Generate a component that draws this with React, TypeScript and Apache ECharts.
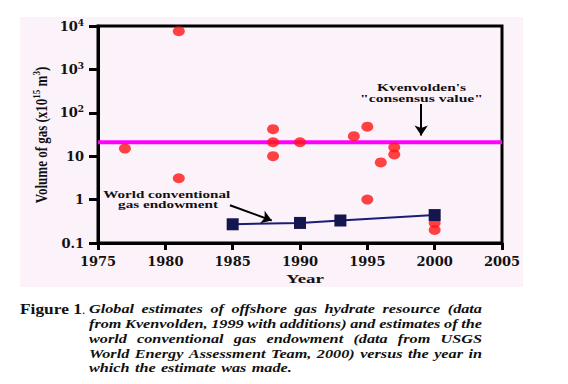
import React, { useEffect, useRef } from "react";
import * as echarts from "echarts";

// ---- data ----
const hydrateYears = [1977, 1981, 1981, 1988, 1988, 1988, 1990, 1994, 1995, 1995, 1996, 1997, 1997, 2000, 2000];
const hydrateVolumes = [15, 7600, 3.1, 42, 21, 10, 21, 29, 48, 1, 7.2, 16, 11, 0.29, 0.2];
const endowmentYears = [1985, 1990, 1993, 2000];
const endowmentVolumes = [0.27, 0.29, 0.33, 0.44];
const consensusSpan = [1975, 2005];
const consensusValue = 21;

const xMin = 1975;
const xMax = 2005;
const xStep = 5;
const yTickValues = [0.1, 1, 10, 100, 1000, 10000];
const yTickBase = ["0.1", "1", "10", "10", "10", "10"];
const yTickExp = ["", "", "", "2", "3", "4"];

const yTitleParts = ["Volume of gas (x10", "15", " m", "3", ")"];
const xTitle = "Year";
const kvenLabel = ["Kvenvolden's", "\"consensus value\""];
const worldLabel = ["World conventional", "gas endowment"];
// arrow annotations in data coordinates [year, volume]
const kvenArrow = [[1999, 160], [1999, 30]];
const worldArrow = [[1984.8, 0.74], [1987.9, 0.33]];

const captionHead = "Figure 1";
const captionLines = [
  "Global estimates of offshore gas hydrate resource (data",
  "from Kvenvolden, 1999 with additions) and estimates of the",
  "world conventional gas endowment (data from USGS",
  "World Energy Assessment Team, 2000) versus the year in",
  "which the estimate was made.",
];

const SERIF = "'Liberation Serif', 'Times New Roman', serif";
const DJ = "'DejaVu Serif', serif";
const INK = "#111111";

export default function App() {
  const ref = useRef<HTMLDivElement>(null);

  useEffect(() => {
    document.body.style.margin = "0";
    const el = ref.current;
    if (!el) return;
    const chart = echarts.init(el, null, { renderer: "svg" });

    const canvas = document.createElement("canvas");
    const ctx = canvas.getContext("2d")!;
    const measure = (t: string, size: number, weight: string, style: string) => {
      ctx.font = `${style} ${weight} ${size}px ${SERIF}`;
      return ctx.measureText(t).width;
    };

    const fitText = (
      text: string,
      cx: number,
      cy: number,
      width: number,
      size: number,
      align: string = "center",
      weight: string = "bold",
      style: string = "normal"
    ) => {
      const w = measure(text, size, weight, style);
      return {
        type: "text",
        x: cx,
        y: cy,
        scaleX: width / w,
        style: {
          text,
          fontFamily: SERIF,
          fontSize: size,
          fontWeight: weight,
          fontStyle: style,
          fill: INK,
          align,
          verticalAlign: "middle",
        },
      };
    };

    const graphics: any[] = [];
    graphics.push(fitText(kvenLabel[0], 421.5, 87.5, 89, 11));
    graphics.push(fitText(kvenLabel[1], 421.5, 98, 123, 11));
    graphics.push(fitText(worldLabel[0], 166.7, 194.5, 127, 11));
    graphics.push(fitText(worldLabel[1], 168, 204, 100, 11));
    graphics.push(fitText(xTitle, 305, 279, 38, 13));

    // y axis title (rotated, with superscripts)
    graphics.push({
      type: "text",
      x: 41,
      y: 135,
      rotation: Math.PI / 2,
      scaleY: 1.25,
      style: {
        text: `{n|${yTitleParts[0]}}{s|${yTitleParts[1]}}{n|${yTitleParts[2]}}{s|${yTitleParts[3]}}{n|${yTitleParts[4]}}`,
        align: "center",
        verticalAlign: "middle",
        rich: {
          n: { fontFamily: SERIF, fontWeight: "bold", fontSize: 13, lineHeight: 16, fill: INK },
          s: { fontFamily: SERIF, fontWeight: "bold", fontSize: 9, lineHeight: 9, verticalAlign: "top", fill: INK },
        },
      },
    });

    // caption
    const capSize = 13;
    const lineYs = [309, 323.5, 339, 353.5, 368];
    const left = 89;
    const right = 482;
    const scale = 198 / measure(captionLines[4], capSize, "bold", "italic");
    graphics.push(fitText(captionHead, 20, 309, 62, 14, "left", "bold", "normal"));
    graphics.push({
      type: "text",
      x: 82,
      y: 309,
      style: { text: ".", fontFamily: SERIF, fontSize: capSize, fill: INK, align: "left", verticalAlign: "middle" },
    });
    captionLines.forEach((line, i) => {
      const words = line.split(" ");
      const ws = words.map((w) => measure(w, capSize, "bold", "italic") * scale);
      const total = ws.reduce((a, b) => a + b, 0);
      const gap =
        i < captionLines.length - 1
          ? (right - left - total) / (words.length - 1)
          : measure(" ", capSize, "bold", "italic") * scale * 1.3;
      let x = left;
      words.forEach((w, j) => {
        graphics.push({
          type: "text",
          x,
          y: lineYs[i],
          scaleX: scale,
          style: {
            text: w,
            fontFamily: SERIF,
            fontSize: capSize,
            fontWeight: "bold",
            fontStyle: "italic",
            fill: INK,
            align: "left",
            verticalAlign: "middle",
          },
        });
        x += ws[j] + gap;
      });
    });

    const axisLabelRich = {
      b: { fontFamily: DJ, fontWeight: "bold", fontSize: 13, lineHeight: 16, color: INK },
      s: { fontFamily: DJ, fontWeight: "bold", fontSize: 9, lineHeight: 9, verticalAlign: "top", color: INK },
    };

    const option: any = {
      animation: false,
      backgroundColor: "transparent",
      grid: {
        left: 98,
        right: 66,
        top: 26,
        bottom: 141,
        show: true,
        borderColor: "#000",
        borderWidth: 3,
        backgroundColor: "transparent",
      },
      xAxis: {
        type: "value",
        min: xMin,
        max: xMax,
        interval: xStep,
        splitLine: { show: false },
        axisLine: { show: true, onZero: false, lineStyle: { color: "#000", width: 3 } },
        axisTick: { show: true, inside: false, length: 7, lineStyle: { color: "#000", width: 3 } },
        axisLabel: {
          margin: 12,
          color: INK,
          fontFamily: DJ,
          fontWeight: "bold",
          fontSize: 13,
          formatter: (v: number) => String(v),
        },
      },
      yAxis: {
        type: "log",
        logBase: 10,
        min: yTickValues[0],
        max: yTickValues[yTickValues.length - 1],
        splitLine: { show: false },
        minorTick: { show: false },
        axisLine: { show: true, onZero: false, lineStyle: { color: "#000", width: 3 } },
        axisTick: { show: true, inside: false, length: 9, lineStyle: { color: "#000", width: 3 } },
        axisLabel: {
          margin: 14,
          formatter: (v: number) => {
            let idx = -1;
            yTickValues.forEach((t, i) => {
              if (Math.abs(Math.log10(t) - Math.log10(v)) < 1e-6) idx = i;
            });
            if (idx < 0) return "";
            const exp = yTickExp[idx];
            return exp ? `{b|${yTickBase[idx]}}{s|${exp}}` : `{b|${yTickBase[idx]}}`;
          },
          rich: axisLabelRich,
        },
      },
      series: [
        {
          name: "Kvenvolden consensus value",
          type: "line",
          data: consensusSpan.map((y) => [y, consensusValue]),
          symbol: "none",
          lineStyle: { color: "#ff00ff", width: 4 },
          z: 2,
        },
        {
          name: "Gas hydrate estimates",
          type: "scatter",
          data: hydrateYears.map((y, i) => [y, hydrateVolumes[i]]),
          symbol: "circle",
          symbolSize: [12, 10],
          itemStyle: { color: "#ff1414" },
          z: 3,
        },
        {
          name: "World conventional gas endowment",
          type: "line",
          data: endowmentYears.map((y, i) => [y, endowmentVolumes[i]]),
          symbol: "rect",
          symbolSize: 12,
          showSymbol: true,
          lineStyle: { color: "#1c1c78", width: 2 },
          itemStyle: { color: "#16164f" },
          z: 4,
        },
        {
          name: "Arrows",
          type: "lines",
          coordinateSystem: "cartesian2d",
          data: [{ coords: kvenArrow }, { coords: worldArrow }],
          symbol: ["none", "arrow"],
          symbolSize: 10,
          lineStyle: { color: "#000", width: 2, opacity: 1 },
          z: 5,
        },
      ],
      graphic: { elements: graphics },
    };

    chart.setOption(option);
    return () => chart.dispose();
  }, []);

  return (
    <div style={{ position: "relative", width: 568, height: 384, background: "#ffffff" }}>
      <div
        style={{
          position: "absolute",
          left: 20,
          top: 17,
          width: 503,
          height: 270,
          background: "#fbf2fa",
        }}
      />
      <div ref={ref} style={{ position: "absolute", left: 0, top: 0, width: 568, height: 384 }} />
    </div>
  );
}
